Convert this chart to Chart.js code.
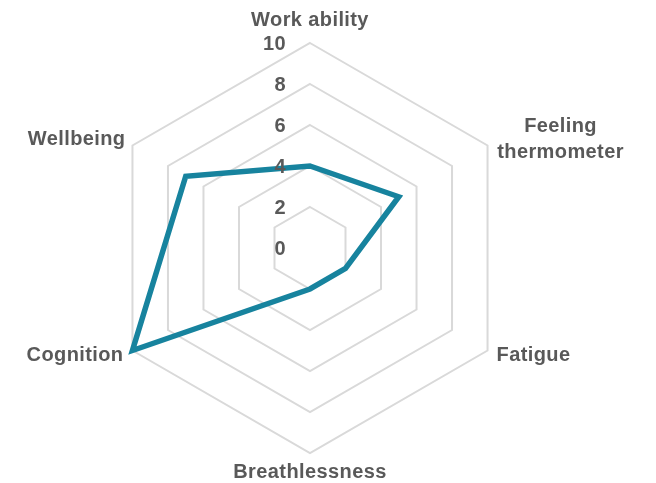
<!DOCTYPE html>
<html>
<head>
<meta charset="utf-8">
<script src="https://cdn.jsdelivr.net/npm/chart.js@4/dist/chart.umd.min.js"></script>
<style>
  html, body { margin: 0; padding: 0; background: #ffffff; }
  #wrap { width: 656px; height: 483px; position: relative; }
</style>
</head>
<body>
<div id="wrap"><canvas id="c" width="656" height="483"></canvas></div>
<script>
// ---- data ----
const categories = [["Work ability"], ["Feeling", "thermometer"], ["Fatigue"], ["Breathlessness"], ["Cognition"], ["Wellbeing"]];
const scores = [4, 5, 2, 2, 10, 7];
const tickValues = [0, 2, 4, 6, 8, 10];

// ---- label layout (positions relative to each axis end) ----
const labelLayout = [
  { dx: 0,   dy: -23,  align: "center" },
  { dx: 73,  dy: -19,  align: "center" },
  { dx: 9,   dy: 5,    align: "left" },
  { dx: 0,   dy: 19,   align: "center" },
  { dx: -9,  dy: 5,    align: "right" },
  { dx: -7,  dy: -6,   align: "right" }
];
const textColor = "#595959";
const textFont = "bold 20px 'Liberation Sans', Arial, sans-serif";

const labelsPlugin = {
  id: "customLabels",
  afterDatasetsDraw(chart) {
    const scale = chart.scales.r;
    const ctx = chart.ctx;
    ctx.save();
    ctx.font = textFont;
    ctx.fillStyle = textColor;
    if ("letterSpacing" in ctx) ctx.letterSpacing = "0.4px";
    // tick labels
    ctx.textAlign = "right";
    ctx.textBaseline = "middle";
    tickValues.forEach(v => {
      const d = scale.getDistanceFromCenterForValue(v);
      ctx.fillText(String(v), scale.xCenter - 24, scale.yCenter - d + 1);
    });
    // point labels
    chart.data.labels.forEach((lab, i) => {
      const p = scale.getPointPosition(i, scale.drawingArea);
      const L = labelLayout[i];
      ctx.textAlign = L.align;
      const lines = Array.isArray(lab) ? lab : [lab];
      const lh = 26;
      lines.forEach((t, k) => {
        ctx.fillText(t, p.x + L.dx, p.y + L.dy + k * lh);
      });
    });
    ctx.restore();
  }
};

new Chart(document.getElementById("c"), {
  type: "radar",
  data: {
    labels: categories,
    datasets: [{
      data: scores,
      borderColor: "#17839E",
      borderWidth: 5.5,
      fill: false,
      pointRadius: 0,
      pointHoverRadius: 0,
      tension: 0
    }]
  },
  options: {
    responsive: false,
    animation: false,
    events: [],
    layout: { padding: { left: 105, right: 140, top: 43, bottom: 29 } },
    plugins: { legend: { display: false }, tooltip: { enabled: false } },
    scales: {
      r: {
        min: 0,
        max: 10,
        ticks: { stepSize: 2, display: false },
        grid: { color: "#D9D9D9", lineWidth: 2 },
        angleLines: { display: false },
        pointLabels: { display: false }
      }
    }
  },
  plugins: [labelsPlugin]
});
</script>
</body>
</html>
